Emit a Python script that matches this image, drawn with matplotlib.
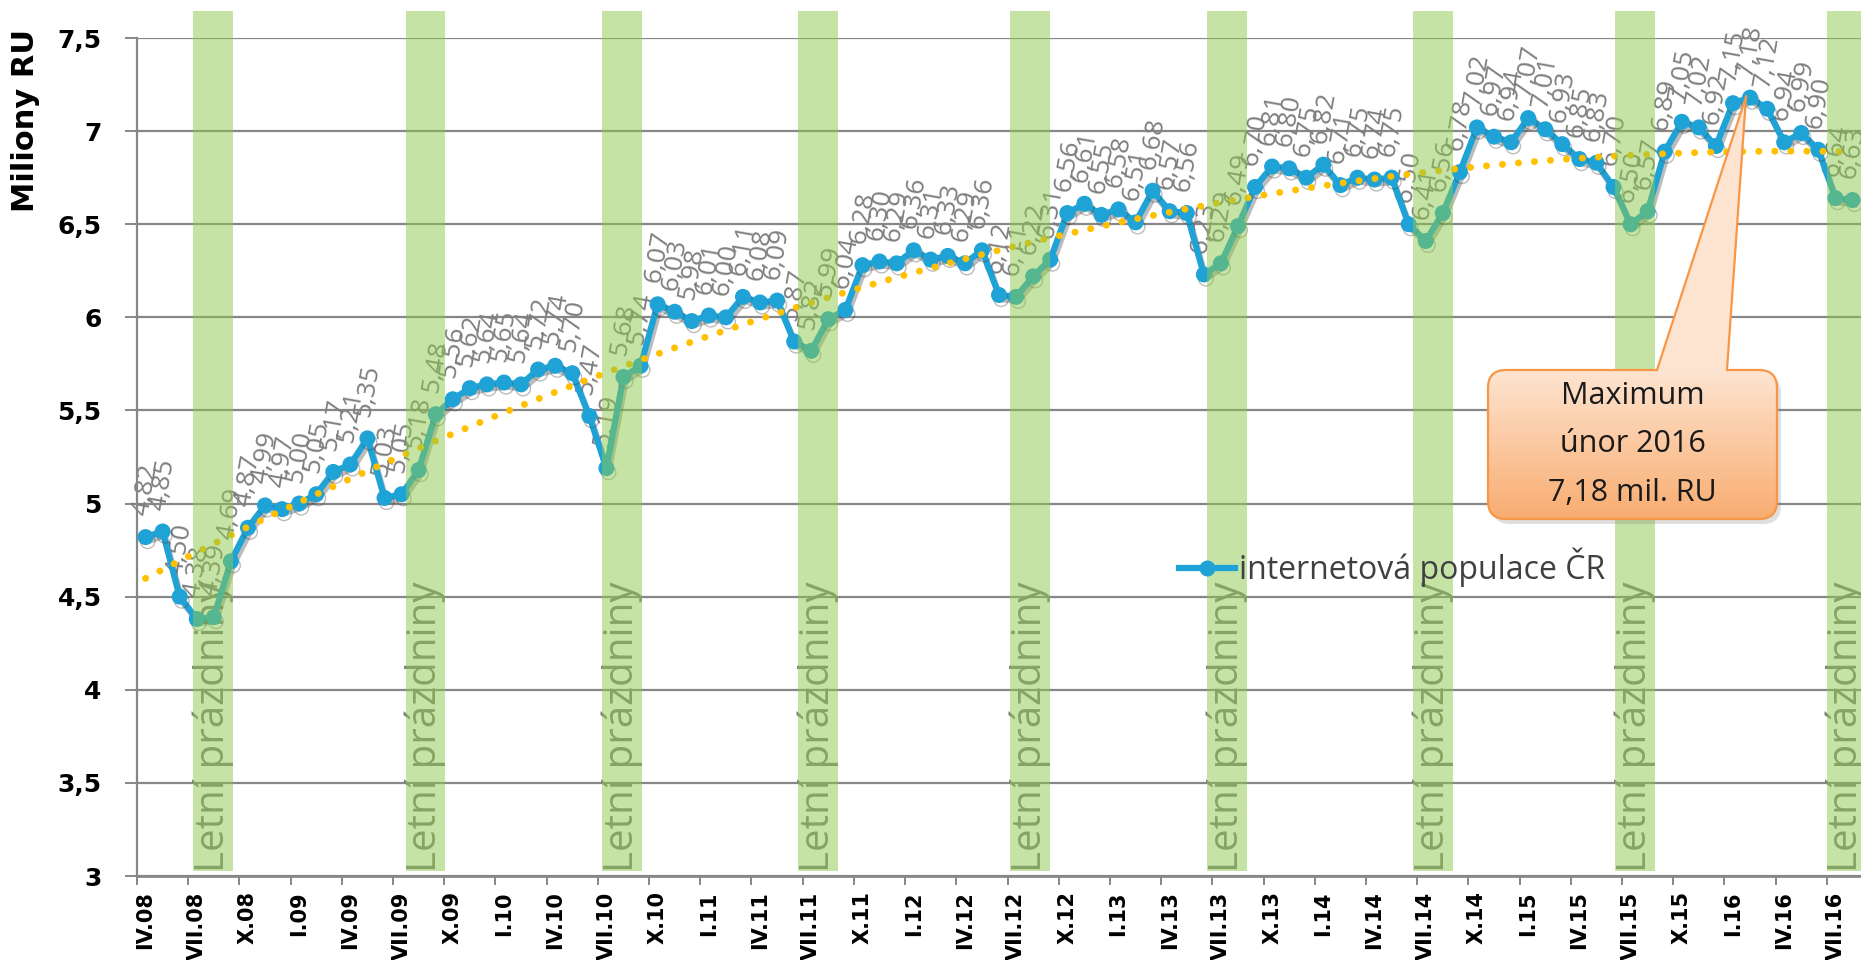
import numpy as np
import matplotlib
matplotlib.use("Agg")
import matplotlib.pyplot as plt
from matplotlib.patches import Rectangle, FancyBboxPatch, Polygon
from matplotlib.lines import Line2D
import matplotlib.patheffects as pe

# ---------------- data ----------------
roman = ["I", "II", "III", "IV", "V", "VI", "VII", "VIII", "IX", "X", "XI", "XII"]
start_month = 4   # IV.08
start_year = 8

values = [4.82, 4.85, 4.50, 4.38, 4.39, 4.69, 4.87, 4.99, 4.97, 5.00,
          5.05, 5.17, 5.21, 5.35, 5.03, 5.05, 5.18, 5.48, 5.56, 5.62,
          5.64, 5.65, 5.64, 5.72, 5.74, 5.70, 5.47, 5.19, 5.68, 5.74,
          6.07, 6.03, 5.98, 6.01, 6.00, 6.11, 6.08, 6.09, 5.87, 5.82,
          5.99, 6.04, 6.28, 6.30, 6.29, 6.36, 6.31, 6.33, 6.29, 6.36,
          6.12, 6.11, 6.22, 6.31, 6.56, 6.61, 6.55, 6.58, 6.51, 6.68,
          6.57, 6.56, 6.23, 6.29, 6.49, 6.70, 6.81, 6.80, 6.75, 6.82,
          6.71, 6.75, 6.74, 6.75, 6.50, 6.41, 6.56, 6.78, 7.02, 6.97,
          6.94, 7.07, 7.01, 6.93, 6.85, 6.83, 6.70, 6.50, 6.57, 6.89,
          7.05, 7.02, 6.92, 7.15, 7.18, 7.12, 6.94, 6.99, 6.90, 6.64, 6.63]

n = len(values)
categories = [f"{roman[(start_month - 1 + k) % 12]}.{start_year + (start_month - 1 + k) // 12:02d}"
              for k in range(n)]
tick_step = 3
tick_labels = categories[::tick_step]

y_ticks = [3, 3.5, 4, 4.5, 5, 5.5, 6, 6.5, 7, 7.5]

# summer-holiday shading (category units)
holiday_band_start = [2.78, 15.23, 26.74, 38.22, 50.65, 62.19, 74.25, 86.09, 98.48]
holiday_band_width = 2.34
band_label = "Letní prázdniny"
series_name = "internetová populace ČR"
ylabel = "Miliony RU"
max_text = ["Maximum", "únor 2016", "7,18 mil. RU"]

# ---------------- style ----------------
BLUE = "#1FA3D6"
TREND = "#FFC000"
BAND = "#8BC94B"
GRID = "#878787"
LABEL_GRAY = "#7F7F7F"
ORANGE = "#F79646"

fig = plt.figure(figsize=(18.61, 9.60), dpi=100)
ax = fig.add_axes([137 / 1861, 84 / 960, 1724 / 1861, 838 / 960])
x = np.arange(n)
ax.set_xlim(-0.5, n - 0.5)
ax.set_ylim(y_ticks[0], y_ticks[-1])

# grid & spines
ax.set_yticks(y_ticks)
ax.set_yticklabels([f"{t:g}".replace(".", ",") for t in y_ticks],
                   fontsize=18, fontweight="bold", family="DejaVu Sans")
ax.yaxis.grid(True, color=GRID, lw=1.6)
ax.set_axisbelow(True)
for s in ["top", "right"]:
    ax.spines[s].set_visible(False)
ax.spines["left"].set_color(GRID)
ax.spines["left"].set_linewidth(1.6)
ax.spines["bottom"].set_color(GRID)
ax.spines["bottom"].set_linewidth(2.0)
ax.tick_params(axis="y", length=8.5, width=1.4, color=GRID, pad=17)

# x ticks: marks at category boundaries, labels at category centres
ax.set_xticks(np.arange(-0.5, n, tick_step))
ax.set_xticklabels([])
ax.set_xticks(x[::tick_step], minor=True)
ax.set_xticklabels(tick_labels, minor=True, rotation=90, fontsize=15,
                   fontweight="bold", family="DejaVu Sans")
ax.tick_params(axis="x", which="major", length=6.5, width=1.4, color=GRID)
ax.tick_params(axis="x", which="minor", length=0, pad=11)

# main series
ax.plot(x, values, color=BLUE, lw=4.5, marker="o", ms=10.5, zorder=3,
        solid_joinstyle="round",
        path_effects=[pe.SimpleLineShadow(offset=(1.5, -3), shadow_color="0.25", alpha=0.35),
                      pe.Normal()])

# polynomial trendline (order 2) fitted to the series
coef = np.polyfit(x, values, 2)
xf = np.linspace(0, n - 1, 400)
ax.plot(xf, np.polyval(coef, xf), color=TREND, lw=5, linestyle=(0, (0.01, 2.3)),
        dash_capstyle="round", zorder=4)

# data labels
for xi, v in zip(x, values):
    ax.annotate(f"{v:.2f}".replace(".", ","), (xi, v), xytext=(0, 14),
                textcoords="offset points", rotation=80, ha="center", va="bottom",
                fontsize=19, color=LABEL_GRAY, family="Open Sans", zorder=2)

# holiday bands with text
for b in holiday_band_start:
    ax.text(b + holiday_band_width / 2, 3.02, band_label, rotation=90, ha="center",
            va="bottom", fontsize=29, color=LABEL_GRAY, family="Open Sans", zorder=1.5)
    ax.add_patch(Rectangle((b, 3.025), holiday_band_width, 7.647 - 3.025,
                           facecolor=BAND, alpha=0.5, edgecolor="none",
                           zorder=5, clip_on=False))

# y label
fig.text(26 / 1861, 1 - 120 / 960, ylabel, rotation=90, ha="center", va="center",
         fontsize=22, fontweight="bold", family="DejaVu Sans", color="black")

# legend
handle = Line2D([], [], color=BLUE, lw=4.5, marker="o", ms=10.5)
fig.legend([handle], [series_name], loc="center left",
           bbox_to_anchor=(1179 / 1861, 1 - 567 / 960), frameon=False,
           handlelength=1.75, handletextpad=0.12, borderpad=0, borderaxespad=0,
           prop={"family": "Open Sans", "size": 23}, labelcolor="#404040")

# ---------------- callout for maximum ----------------
tr = fig.dpi_scale_trans
bx0, by0, bw, bh = 14.88, 4.41, 2.89, 1.49
rnd = 0.18
imax = int(np.argmax(values))
tip_disp = ax.transData.transform((x[imax], values[imax]))
tip = tr.inverted().transform(tip_disp)
tip = (tip[0] - 0.04, tip[1] + 0.01)

shadow = FancyBboxPatch((bx0 + 0.04, by0 - 0.05), bw, bh,
                        boxstyle=f"round,pad=0,rounding_size={rnd}",
                        transform=tr, facecolor="0.5", edgecolor="none", alpha=0.25, zorder=8)
fig.add_artist(shadow)
box = FancyBboxPatch((bx0, by0), bw, bh, boxstyle=f"round,pad=0,rounding_size={rnd}",
                     transform=tr, facecolor="none", edgecolor=ORANGE, lw=1.6, zorder=10)
top_c = np.array([253, 228, 208]) / 255
bot_c = np.array([248, 172, 112]) / 255
nstrip = 80
for k in range(nstrip):
    f = k / (nstrip - 1)
    c = bot_c * (1 - f) + top_c * f
    r = Rectangle((bx0, by0 + bh * k / nstrip), bw, bh / nstrip + 0.01, transform=tr,
                  facecolor=c, edgecolor="none", zorder=9)
    r.set_clip_path(box)
    fig.add_artist(r)
fig.add_artist(box)

bl = (16.57, by0 + bh)
br = (17.27, by0 + bh)
wedge = Polygon([(bl[0], bl[1] - 0.03), tip, (br[0], br[1] - 0.03)], closed=True,
                transform=tr, facecolor=top_c, edgecolor="none", zorder=10.5)
fig.add_artist(wedge)
for p in (bl, br):
    fig.add_artist(Line2D([p[0], tip[0]], [p[1], tip[1]], transform=tr,
                          color=ORANGE, lw=1.6, zorder=11))

cx = bx0 + bw / 2
for j, line in enumerate(max_text):
    fig.text(cx / 18.61, (by0 + bh / 2 + (1 - j) * 0.487) / 9.60, line,
             ha="center", va="center", fontsize=22, family="Open Sans",
             color="#1A1A1A", zorder=12)

fig.savefig("out.png", dpi=100)
